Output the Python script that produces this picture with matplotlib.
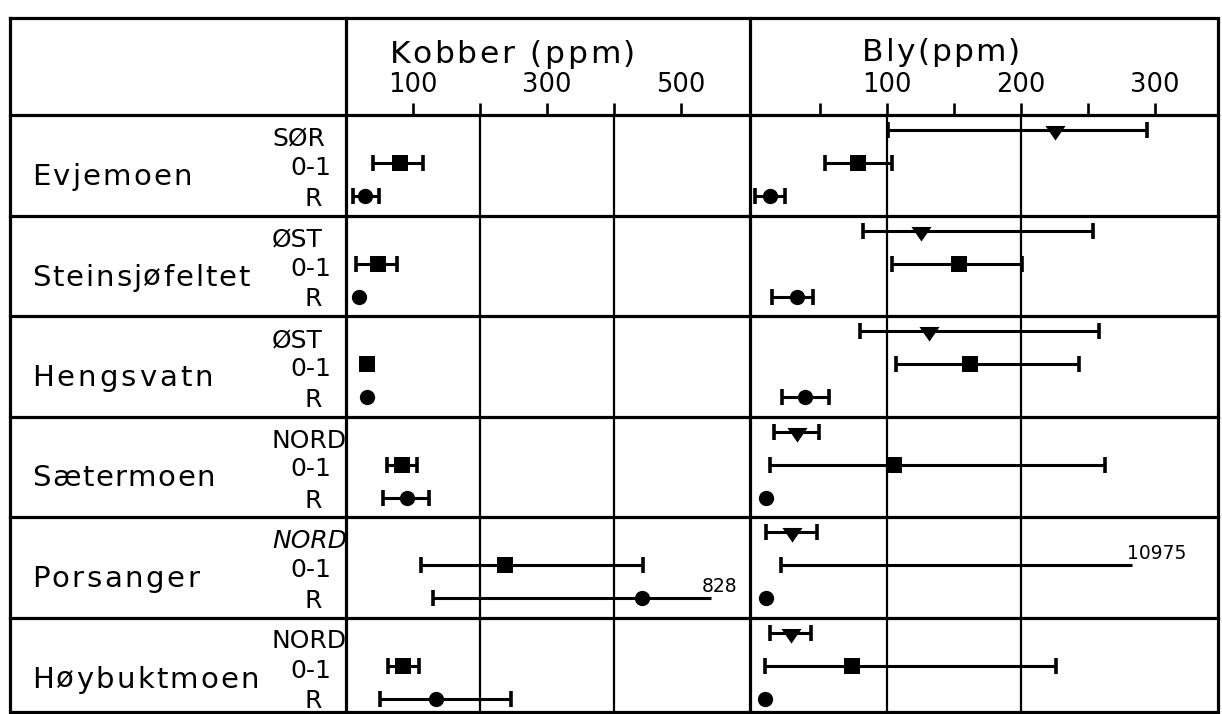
import numpy as np
import matplotlib
matplotlib.use('Agg')
import matplotlib.pyplot as plt
from matplotlib.font_manager import FontProperties

nan = np.nan

# ---------------- data ----------------
sites = ['Evjemoen', 'Steinsjøfeltet', 'Hengsvatn', 'Sætermoen', 'Porsanger', 'Høybuktmoen']
directions = ['SØR', 'ØST', 'ØST', 'NORD', 'NORD', 'NORD']
sample_labels = ['0-1', 'R']

cu_title = 'Kobber (ppm)'
pb_title = 'Bly(ppm)'
cu_ticks = [100, 200, 300, 400, 500]
cu_ticklabels = ['100', '', '300', '', '500']
cu_grid = [200, 400]
pb_ticks = [50, 100, 150, 200, 250, 300]
pb_ticklabels = ['', '100', '', '200', '', '300']
pb_grid = [100, 200]

# Kobber (ppm): direction sample (none), 0-1 and R
cu_dir_mean = [nan, nan, nan, nan, nan, nan]
cu_dir_low = [nan, nan, nan, nan, nan, nan]
cu_dir_high = [nan, nan, nan, nan, nan, nan]
cu_01_mean = [81, 48, 32, 84, 237, 85]
cu_01_low = [40, 15, nan, 61, 112, 63]
cu_01_high = [115, 76, nan, 106, 443, 109]
cu_R_mean = [29, 19, 31, 91, 442, 134]
cu_R_low = [10, nan, nan, 55, 130, 51]
cu_R_high = [49, nan, nan, 124, 828, 246]

# Bly (ppm)
pb_dir_mean = [225, 125, 131, 33, 29, 28]
pb_dir_low = [101, 82, 80, 16, 10, 13]
pb_dir_high = [294, 254, 258, 49, 48, 43]
pb_01_mean = [78, 154, 162, 105, nan, 74]
pb_01_low = [54, 104, 107, 13, 21, 9]
pb_01_high = [104, 201, 243, 263, 10975, 226]
pb_R_mean = [13, 33, 39, 10, 10, 9]
pb_R_low = [1.5, 14, 22, nan, nan, nan]
pb_R_high = [24, 45, 57, nan, nan, nan]

# ---------------- layout ----------------
W, H = 1222, 714
X_LEFT, X_CU, X_PB, X_RIGHT = 10, 346, 750, 1218
Y_TOP, Y_HEAD, Y_BOT = 18, 115, 712
ROW_H = 100.5
CU_MAX = 600
CU_BREAK = 545      # where off-scale whiskers are cut (axis units)
PB_BREAK = 283
SUB_Y = [0.15, 0.48, 0.81]   # position of dir / 0-1 / R within a row

FAM = ['DejaVu Sans']
plt.rcParams['font.family'] = FAM

fig = plt.figure(figsize=(W / 100, H / 100), dpi=100)
fig.patch.set_facecolor('white')
renderer = fig.canvas.get_renderer()

bg = fig.add_axes([0, 0, 1, 1])
bg.set_xlim(0, W)
bg.set_ylim(H, 0)
bg.axis('off')


def tracked_text(x, y, s, size, width=None, style='normal', weight='normal'):
    prop = FontProperties(family=FAM, size=size, style=style, weight=weight)

    def w(t):
        return renderer.get_text_width_height_descent(t, prop, ismath=False)[0]

    natural = w(s)
    track = (width - natural) / (len(s) - 1) if width else 0.0
    for i, c in enumerate(s):
        if c == ' ':
            continue
        xi = x + w(s[:i + 1]) - w(c) + i * track
        bg.text(xi, y, c, fontproperties=prop, ha='left', va='baseline', color='black')


LW_FRAME = 2.3
# outer frame and column dividers
bg.plot([X_LEFT, X_RIGHT, X_RIGHT, X_LEFT, X_LEFT], [Y_TOP, Y_TOP, Y_BOT, Y_BOT, Y_TOP],
        color='black', lw=LW_FRAME, solid_joinstyle='miter')
for xc in (X_CU, X_PB):
    bg.plot([xc, xc], [Y_TOP, Y_BOT], color='black', lw=LW_FRAME)
bg.plot([X_LEFT, X_RIGHT], [Y_HEAD, Y_HEAD], color='black', lw=LW_FRAME)
for k in range(1, len(sites)):
    yk = Y_HEAD + k * ROW_H
    bg.plot([X_LEFT, X_RIGHT], [yk, yk], color='black', lw=LW_FRAME)

# headers
tracked_text(390, 63, cu_title, 22.5, width=245)
tracked_text(862, 61, pb_title, 22.5, width=158)

# row labels
name_widths = [160, 218, 181, 183, 167, 227]
for k, (name, d) in enumerate(zip(sites, directions)):
    top = Y_HEAD + k * ROW_H
    tracked_text(32, top + 70, name, 21, width=name_widths[k])
    italic = (k == 4)
    bg.text(272, top + 31, d, fontsize=18, ha='left', va='baseline',
            style='italic' if italic else 'normal')
    bg.text(331, top + 60, sample_labels[0], fontsize=18, ha='right', va='baseline')
    bg.text(322, top + 91, sample_labels[1], fontsize=18, ha='right', va='baseline')

# ---------------- data axes ----------------
nrows_visible = (Y_BOT - Y_HEAD) / ROW_H
ax_cu = fig.add_axes([X_CU / W, 1 - Y_BOT / H, (X_PB - 2 - X_CU) / W, (Y_BOT - Y_HEAD) / H])
ax_pb = fig.add_axes([X_PB / W, 1 - Y_BOT / H, (X_RIGHT - X_PB) / W, (Y_BOT - Y_HEAD) / H])
ax_cu.set_xlim(0, CU_MAX)
ax_pb.set_xlim((X_PB - 753) / 1.34, (X_RIGHT - 753) / 1.34)

for ax, ticks, tl, grid in ((ax_cu, cu_ticks, cu_ticklabels, cu_grid),
                           (ax_pb, pb_ticks, pb_ticklabels, pb_grid)):
    ax.set_facecolor('none')
    ax.set_ylim(nrows_visible, 0)
    for sp in ax.spines.values():
        sp.set_visible(False)
    ax.set_xticks(ticks)
    ax.set_xticklabels(tl)
    ax.tick_params(axis='x', top=True, bottom=False, labeltop=True, labelbottom=False,
                   direction='out', length=9, width=1.9, pad=3.5, labelsize=18.5, color='black')
    ax.tick_params(axis='y', left=False, labelleft=False)
    for g in grid:
        ax.axvline(g, color='black', lw=1.6, zorder=1)

# downward triangle hanging below the whisker line
TRI = [(-1, 0.45), (1, 0.45), (0, -1.0), (-1, 0.45)]
MARK = {'v': (TRI, 14.5), 's': ('s', 11), 'o': ('o', 11)}


def draw_series(ax, sub, mean, low, high, marker, brk):
    xmax = ax.get_xlim()[1]
    mk, ms = MARK[marker]
    for i in range(len(sites)):
        y = i + SUB_Y[sub]
        lo, hi, m = low[i], high[i], mean[i]
        if not (np.isnan(lo) or np.isnan(hi)):
            off_scale = hi > xmax
            hi_d = brk if off_scale else hi
            ax.plot([lo, hi_d], [y, y], color='black', lw=2.2, solid_capstyle='butt', zorder=3,
                    clip_on=False)
            ax.plot([lo], [y], marker='|', ms=11, mew=2.6, color='black', zorder=3, clip_on=False)
            if not off_scale:
                ax.plot([hi], [y], marker='|', ms=11, mew=2.6, color='black', zorder=3,
                        clip_on=False)
            else:
                ax.annotate(f'{hi:g}', xy=(hi_d, y), xytext=(-7 if ax is ax_cu else -3.5, 4.3),
                            textcoords='offset points', ha='left', va='baseline',
                            fontsize=13.5, color='black')
        if not np.isnan(m):
            ax.plot([m], [y], marker=mk, ms=ms, mew=0, color='black', zorder=4,
                    clip_on=False)


draw_series(ax_cu, 0, cu_dir_mean, cu_dir_low, cu_dir_high, 'v', CU_BREAK)
draw_series(ax_cu, 1, cu_01_mean, cu_01_low, cu_01_high, 's', CU_BREAK)
draw_series(ax_cu, 2, cu_R_mean, cu_R_low, cu_R_high, 'o', CU_BREAK)
draw_series(ax_pb, 0, pb_dir_mean, pb_dir_low, pb_dir_high, 'v', PB_BREAK)
draw_series(ax_pb, 1, pb_01_mean, pb_01_low, pb_01_high, 's', PB_BREAK)
draw_series(ax_pb, 2, pb_R_mean, pb_R_low, pb_R_high, 'o', PB_BREAK)

fig.savefig('out.png', dpi=100, facecolor='white')
